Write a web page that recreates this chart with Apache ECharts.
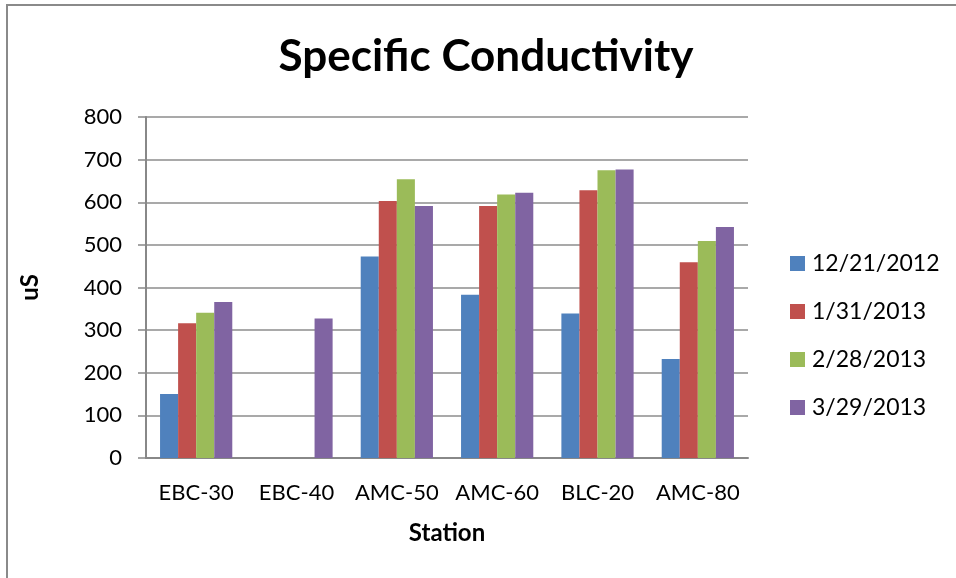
<!DOCTYPE html>
<html><head><meta charset="utf-8">
<script src="https://cdn.jsdelivr.net/npm/echarts@6/dist/echarts.min.js"></script>
<style>html,body{margin:0;padding:0;background:#fff}#c{width:956px;height:578px}</style>
</head><body><div id="c"></div>
<script>
var categories = ['EBC-30','EBC-40','AMC-50','AMC-60','BLC-20','AMC-80'];
var seriesNames = ['12/21/2012','1/31/2013','2/28/2013','3/29/2013'];
var s1 = [150, null, 473, 383, 339, 232];
var s2 = [316, null, 603, 591, 628, 459];
var s3 = [341, null, 654, 618, 675, 509];
var s4 = [366, 327, 591, 622, 677, 542];
var colors = ['#4F81BD','#C0504D','#9BBB59','#8064A2'];
var yTicks = [0,100,200,300,400,500,600,700,800];

var FONT = 'Lato';
var chart = echarts.init(document.getElementById('c'));
var data = [s1,s2,s3,s4];
chart.setOption({
  animation:false,
  color: colors,
  title:{text:'Specific Conductivity', left:481, top:30, textAlign:'center',
    textStyle:{fontFamily:FONT, fontWeight:'bold', fontSize:44, color:'#000'}},
  graphic:[{type:'rect', shape:{x:7,y:5,width:980,height:620},
    style:{fill:'none', stroke:'#8a8a8a', lineWidth:2}, silent:true}],
  legend:{orient:'vertical', left:785, top:247, itemWidth:15, itemHeight:15, itemGap:25,
    icon:'rect', data:seriesNames,
    textStyle:{fontFamily:FONT, fontSize:23, color:'#000', lineHeight:23, padding:[0,0,0,2]}},
  grid:{left:146, top:117, width:602, height:341, containLabel:false},
  xAxis:{type:'category', data:categories, name:'Station', nameLocation:'middle', nameGap:63,
    nameTextStyle:{fontFamily:FONT, fontWeight:'bold', fontSize:24, color:'#000'},
    axisLine:{lineStyle:{color:'#888', width:2}}, axisTick:{show:false},
    axisLabel:{fontFamily:FONT, fontSize:22, color:'#000', margin:24, interval:0}},
  yAxis:{type:'value', min:yTicks[0], max:yTicks[yTicks.length-1], interval:100,
    name:'uS', nameLocation:'middle', nameGap:104,
    nameTextStyle:{fontFamily:FONT, fontWeight:'bold', fontSize:24, color:'#000'},
    axisLine:{show:true, lineStyle:{color:'#888', width:2}},
    axisTick:{show:true, length:8, lineStyle:{color:'#888', width:1.5}},
    axisLabel:{fontFamily:FONT, fontSize:22, color:'#000', margin:24},
    splitLine:{lineStyle:{color:'#8c8c8c', width:1.5}}},
  series: seriesNames.map(function(n,i){
    return {name:n, type:'bar', data:data[i], barGap:'0%', barCategoryGap:'28%',
      itemStyle:{color:colors[i]}};
  })
});
</script></body></html>
